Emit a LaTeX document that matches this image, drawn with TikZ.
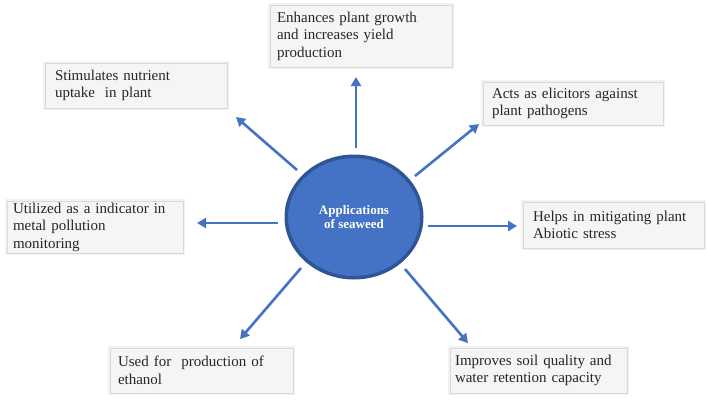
\documentclass[tikz,border=0pt]{standalone}
\usepackage{fontspec}
\setmainfont{Liberation Serif}
\usetikzlibrary{shapes.geometric,arrows.meta}
\definecolor{cfill}{HTML}{4472C4}
\definecolor{cline}{HTML}{2F5597}
\newcommand{\boxfont}{\fontsize{15}{17.5}\selectfont}
\newcommand{\circfont}{\fontsize{13}{14.5}\selectfont\bfseries}
\tikzset{
  infobox/.style={rectangle, draw=black!15, line width=0.8pt, fill=black!4,
    align=left, inner ysep=0pt, font=\boxfont, text=black!85,
    preaction={draw=black!5, line width=4.5pt}},
  arr/.style={draw=cfill, line width=2.6pt,
    -{Triangle[length=9pt,width=10pt]}},
  hub/.style={ellipse, draw=cline, line width=3.5pt, fill=cfill,
    minimum width=135.5, minimum height=121.5, inner sep=0pt,
    align=center, font=\circfont, text=white}
}
\begin{document}
\begin{tikzpicture}[x=1pt,y=-1pt]
\useasboundingbox (0,0) rectangle (708,402);

\node[hub] (c) at (354,217) {Applications\\of seaweed};

\node[infobox, inner xsep=7pt, text width=168, minimum height=62] (bT) at (361,36)
  {Enhances plant growth\\and increases yield\\production};
\node[infobox, inner xsep=10pt, text width=162, minimum height=45] (bUL) at (136,85.5)
  {Stimulates nutrient\\uptake\ \ in plant};
\node[infobox, inner xsep=9pt, text width=162, minimum height=43] (bUR) at (573,103.5)
  {Acts as elicitors against\\plant pathogens};
\node[infobox, inner xsep=6pt, text width=164, minimum height=52] (bL) at (95,227)
  {Utilized as a indicator in\\metal pollution\\monitoring};
\node[infobox, inner xsep=10pt, text width=161, minimum height=46] (bR) at (613.5,225)
  {Helps in mitigating plant\\Abiotic stress};
\node[infobox, inner xsep=8pt, text width=167, minimum height=45] (bLL) at (201.5,370.5)
  {Used for\ \ production of\\ethanol};
\node[infobox, inner xsep=5pt, text width=167, minimum height=45] (bLR) at (538.5,370.5)
  {Improves soil quality and\\water retention capacity};

\coordinate (sT) at (356,148);  \coordinate (tT) at (356,77);
\coordinate (sUL) at (297,170); \coordinate (tUL) at (236,117);
\coordinate (sL) at (278,223);  \coordinate (tL) at (197,223);
\coordinate (sUR) at (415,176); \coordinate (tUR) at (479,124);
\coordinate (sR) at (428,226);  \coordinate (tR) at (517,226);
\coordinate (sLL) at (301,268); \coordinate (tLL) at (240,339);
\coordinate (sLR) at (405,269); \coordinate (tLR) at (468,343);

\draw[arr] (sT) -- (tT);
\draw[arr] (sUL) -- (tUL);
\draw[arr] (sL) -- (tL);
\draw[arr] (sUR) -- (tUR);
\draw[arr] (sR) -- (tR);
\draw[arr] (sLL) -- (tLL);
\draw[arr] (sLR) -- (tLR);
\end{tikzpicture}
\end{document}
